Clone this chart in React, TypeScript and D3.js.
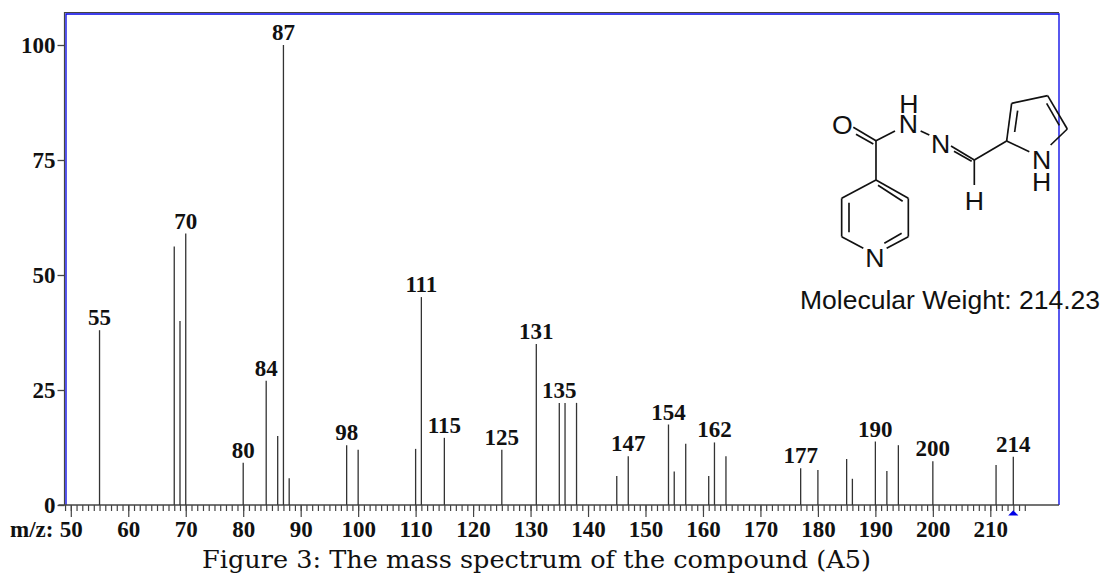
import React, { useEffect, useRef } from 'react';
import * as d3 from 'd3';

// m/z and relative abundance
const mzValues = [55, 68, 69, 70, 80, 84, 86, 87, 88, 98, 100, 110, 111, 115, 125, 131, 135, 136, 138, 145, 147, 154, 155, 157, 161, 162, 164, 177, 180, 185, 186, 190, 192, 194, 200, 211, 214];
const abundance = [38, 56.2, 40, 59, 9.2, 27, 15, 100, 5.8, 13, 12, 12.2, 45.2, 14.6, 12, 35, 22.2, 22.2, 22.2, 6.3, 10.6, 17.5, 7.3, 13.3, 6.3, 13.6, 10.6, 8, 7.6, 10, 5.7, 13.8, 7.4, 13, 9.5, 8.7, 10.5];
const labeledMz = [55, 70, 80, 84, 87, 98, 111, 115, 125, 131, 135, 147, 154, 162, 177, 190, 200, 214];
const yTicks = [0, 25, 50, 75, 100];
const xMajorTicks = [50, 60, 70, 80, 90, 100, 110, 120, 130, 140, 150, 160, 170, 180, 190, 200, 210];
const xMinorTicks = d3.range(49, 217);

// structure drawing, in its own 3x units
const singleBonds = [
  [258, 212, 258, 330], [258, 212, 315, 183], [392, 183, 418, 195], [553, 270, 553, 345],
  [553, 270, 650, 213], [650, 213, 665, 100], [665, 100, 773, 77], [773, 77, 832, 177],
  [832, 177, 782, 225], [650, 213, 718, 245], [258, 330, 355, 385], [258, 330, 155, 385],
  [155, 385, 155, 500], [155, 500, 220, 535], [355, 385, 355, 500], [355, 500, 290, 535],
  [190, 172, 258, 212], [483, 228, 553, 270],
];
const innerBonds = [
  [198, 193, 250, 222], [492, 244, 545, 274], [674, 186, 683, 122], [770, 100, 808, 166],
  [264, 346, 338, 394], [177, 398, 177, 487], [283, 520, 335, 490],
];
const atoms = [
  { t: 'O', x: 157, y: 163 }, { t: 'N', x: 355, y: 160 }, { t: 'H', x: 357, y: 100 },
  { t: 'N', x: 452, y: 220 }, { t: 'H', x: 553, y: 392 }, { t: 'N', x: 755, y: 268 },
  { t: 'H', x: 755, y: 335 }, { t: 'N', x: 255, y: 562 },
];

const width = 1104;
const height = 574;
const frame = { left: 65.5, top: 13.5, right: 1059, bottom: 505 };
const serif = '"Liberation Serif", serif';

export default function App() {
  const svgRef = useRef<SVGSVGElement>(null);

  useEffect(() => {
    if (!svgRef.current) return;
    const svg = d3.select(svgRef.current);
    svg.selectAll('*').remove();

    const x = d3.scaleLinear().domain([50, 214]).range([70.8, 1013.3]);
    const y = d3.scaleLinear().domain([0, 100]).range([frame.bottom, 45]);

    // frame: grey outside, blue inside
    svg.append('path')
      .attr('d', `M${frame.left - 1},${frame.bottom}V${frame.top - 1}H${frame.right}`)
      .attr('fill', 'none').attr('stroke', '#444').attr('stroke-width', 1.2);
    svg.append('path')
      .attr('d', `M${frame.left + 0.5},${frame.bottom}V${frame.top + 0.5}H${frame.right}V${frame.bottom}`)
      .attr('fill', 'none').attr('stroke', '#0000e6').attr('stroke-width', 1.3);

    // y axis
    const yAxis = svg.append('g')
      .attr('transform', `translate(${frame.left - 1},0)`)
      .call(d3.axisLeft(y).tickValues(yTicks).tickSize(7).tickPadding(2));
    yAxis.select('.domain').remove();
    yAxis.selectAll('line').attr('stroke', '#444').attr('stroke-width', 1.3);
    yAxis.selectAll('text')
      .attr('font-family', serif).attr('font-weight', 'bold').attr('font-size', 23).attr('fill', '#111');

    // x axis, minor ticks then labelled ticks
    const xMinor = svg.append('g')
      .attr('transform', `translate(0,${frame.bottom})`)
      .call(d3.axisBottom(x).tickValues(xMinorTicks).tickSize(6).tickFormat(() => ''));
    xMinor.select('.domain').remove();
    xMinor.selectAll('line').attr('stroke', '#444').attr('stroke-width', 1.2);

    const xMajor = svg.append('g')
      .attr('transform', `translate(0,${frame.bottom})`)
      .call(d3.axisBottom(x).tickValues(xMajorTicks).tickSize(12).tickPadding(4));
    xMajor.select('.domain').remove();
    xMajor.selectAll('line').attr('stroke', '#444').attr('stroke-width', 1.2);
    xMajor.selectAll('text')
      .attr('font-family', serif).attr('font-weight', 'bold').attr('font-size', 23).attr('fill', '#111');

    svg.append('line')
      .attr('x1', frame.left - 7).attr('x2', frame.right)
      .attr('y1', frame.bottom).attr('y2', frame.bottom)
      .attr('stroke', '#444').attr('stroke-width', 1.4);

    svg.append('text')
      .attr('x', 10).attr('y', 537)
      .attr('font-family', serif).attr('font-weight', 'bold').attr('font-size', 23).attr('fill', '#111')
      .text('m/z:');

    // peaks
    svg.append('g').selectAll('line')
      .data(d3.zip(mzValues, abundance))
      .join('line')
      .attr('x1', (d) => x(d[0])).attr('x2', (d) => x(d[0]))
      .attr('y1', frame.bottom).attr('y2', (d) => y(d[1]))
      .attr('stroke', '#333').attr('stroke-width', 1.3);

    svg.append('g').selectAll('text')
      .data(labeledMz)
      .join('text')
      .attr('x', (d) => x(d))
      .attr('y', (d) => y(abundance[mzValues.indexOf(d)]) - 5)
      .attr('text-anchor', 'middle')
      .attr('font-family', serif).attr('font-weight', 'bold').attr('font-size', 23).attr('fill', '#111')
      .text((d) => d);

    // precursor marker
    svg.append('path')
      .attr('d', d3.symbol(d3.symbolTriangle, 45)())
      .attr('transform', `translate(${x(214)},513.8) scale(1,0.6)`)
      .attr('fill', '#0000e6');

    // structure
    const mol = svg.append('g').attr('transform', 'translate(790,70) scale(0.3333)');
    mol.selectAll('line')
      .data([...singleBonds, ...innerBonds])
      .join('line')
      .attr('x1', (d) => d[0]).attr('y1', (d) => d[1])
      .attr('x2', (d) => d[2]).attr('y2', (d) => d[3])
      .attr('stroke', '#111').attr('stroke-width', 5);
    mol.selectAll('text')
      .data(atoms)
      .join('text')
      .attr('x', (d) => d.x).attr('y', (d) => d.y + 29)
      .attr('text-anchor', 'middle')
      .attr('font-family', '"Liberation Sans", sans-serif').attr('font-size', 80).attr('fill', '#111')
      .text((d) => d.t);

    svg.append('text')
      .attr('x', 800).attr('y', 309)
      .attr('font-family', '"Liberation Sans", sans-serif').attr('font-size', 26.5).attr('fill', '#111')
      .text('Molecular Weight: 214.23');

    svg.append('text')
      .attr('x', 202).attr('y', 568)
      .attr('font-family', '"DejaVu Serif", serif').attr('font-size', 25)
      .attr('textLength', 669).attr('lengthAdjust', 'spacingAndGlyphs').attr('fill', '#111')
      .text('Figure 3: The mass spectrum of the compound (A5)');
  }, []);

  return (
    <svg
      ref={svgRef}
      width={width}
      height={height}
      style={{ position: 'absolute', left: 0, top: 0, background: '#fff', display: 'block' }}
    />
  );
}
